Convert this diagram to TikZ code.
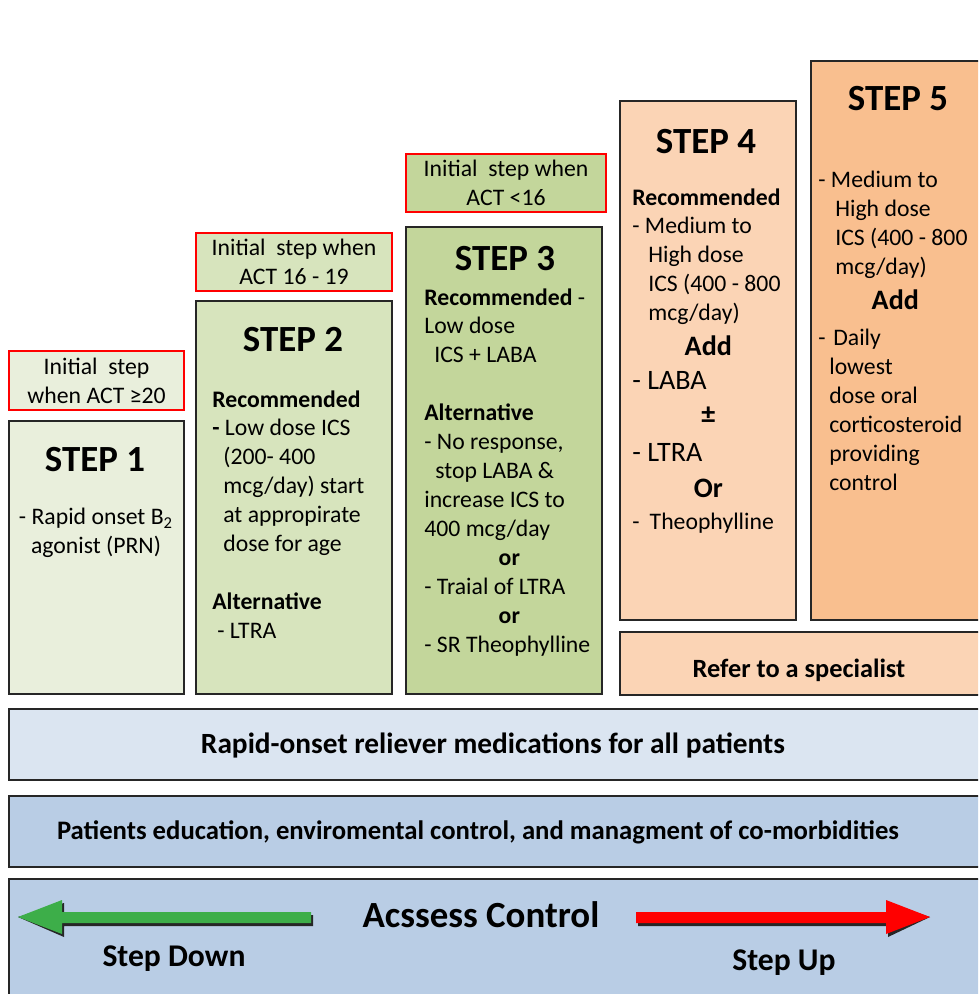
\documentclass[tikz,border=0pt]{standalone}
\usepackage{fontspec}
\setmainfont{Carlito}
\usetikzlibrary{positioning}

\definecolor{boxline}{HTML}{262626}
\definecolor{sone}{HTML}{E9EFDC}
\definecolor{stwo}{HTML}{D7E4BD}
\definecolor{sthree}{HTML}{C3D69B}
\definecolor{sfour}{HTML}{FBD4B5}
\definecolor{sfive}{HTML}{F9BF8F}
\definecolor{bandone}{HTML}{DBE5F1}
\definecolor{bandtwo}{HTML}{B9CDE5}
\definecolor{downgreen}{HTML}{3DAE49}
\definecolor{upred}{HTML}{FF0000}

\newcommand{\bodyfont}{\fontsize{13.5}{16.5}\selectfont}
\newcommand{\bigtxt}{\fontsize{16}{19}\selectfont}

\tikzset{
  stepbox/.style={draw=boxline, line width=1.3pt, anchor=north west, inner sep=0pt},
  actbox/.style={draw=red, line width=1.2pt, anchor=north west, inner sep=0pt, align=center, font=\bodyfont},
  txt/.style={anchor=north west, inner sep=0pt, align=left, font=\bodyfont},
  stephead/.style={inner sep=0pt, font=\fontsize{21}{24}\selectfont\bfseries},
  bandtxt/.style={inner sep=0pt, font=\fontsize{15}{18}\selectfont\bfseries},
}

\begin{document}
\begin{tikzpicture}[x=0.02cm,y=-0.02cm]
  \clip (0,0) rectangle (978,994);
  \fill[white] (0,0) rectangle (978,994);

  % step boxes
  \node[stepbox, fill=sone, minimum width=3.5cm, minimum height=5.46cm] (box1) at (8,420) {};
  \node[stepbox, fill=stwo, minimum width=3.92cm, minimum height=7.86cm] (box2) at (195,300) {};
  \node[stepbox, fill=sthree, minimum width=3.92cm, minimum height=9.34cm] (box3) at (405,226) {};
  \node[stepbox, fill=sfour, minimum width=3.52cm, minimum height=10.38cm] (box4) at (619,100) {};
  \node[stepbox, fill=sfive, minimum width=3.6cm, minimum height=11.18cm] (box5) at (810,60) {};
  \node[stepbox, fill=sfour, minimum width=7.42cm, minimum height=1.26cm] (refer) at (619,631) {};

  % initial step boxes
  \node[actbox, fill=sone, minimum width=3.5cm, minimum height=1.18cm] (init1) at (8,350) {Initial~ step\\when ACT ≥20};
  \node[actbox, fill=stwo, minimum width=3.92cm, minimum height=1.16cm] (init2) at (195,232) {Initial~ step when\\ACT 16 - 19};
  \node[actbox, fill=sthree, minimum width=4cm, minimum height=1.16cm] (init3) at (405,153) {Initial~ step when\\ACT <16};

  % bands
  \node[stepbox, fill=bandone, minimum width=19.64cm, minimum height=1.42cm] (band1) at (8,708) {};
  \node[stepbox, fill=bandtwo, minimum width=19.64cm, minimum height=1.42cm] (band2) at (8,795) {};
  \node[stepbox, fill=bandtwo, minimum width=19.64cm, minimum height=2.44cm] (band3) at (8,878) {};

  % headings
  \node[stephead] (head1) at (95,460) {STEP 1};
  \node[stephead] (head2) at (293,340) {STEP 2};
  \node[stephead] (head3) at (505,259) {STEP 3};
  \node[stephead] (head4) at (706,142) {STEP 4};
  \node[stephead] (head5) at (898,99) {STEP 5};

  % contents
  \node[txt, anchor=north, align=center] (text1) at (96,508) {- Rapid onset B\textsubscript{2}\\agonist (PRN)};
  \node[txt] (text2) at (212,390) {\textbf{Recommended}\\
    \textbf{-} Low dose ICS\\
    \hspace*{0.22cm}(200- 400\\
    \hspace*{0.22cm}mcg/day) start\\
    \hspace*{0.22cm}at appropirate\\
    \hspace*{0.22cm}dose for age\\[16.5pt]
    \textbf{Alternative}\\
    \hspace*{0.1cm}- LTRA};
  \node[txt] (text3) at (424,288) {\textbf{Recommended} -\\
    Low dose\\
    \hspace*{0.2cm}ICS + LABA\\[16.5pt]
    \textbf{Alternative}\\
    - No response,\\
    \hspace*{0.22cm}stop LABA \&\\
    increase ICS to\\
    400 mcg/day\\
    \makebox[3.4cm]{\bfseries or}\\
    - Traial of LTRA\\
    \makebox[3.4cm]{\bfseries or}\\
    - SR Theophylline};
  \node[txt] (text4) at (632,188) {\textbf{Recommended}\\
    - Medium to\\
    \hspace*{0.32cm}High dose\\
    \hspace*{0.32cm}ICS (400 - 800\\
    \hspace*{0.32cm}mcg/day)\\[3pt]
    \makebox[3.04cm]{\bigtxt\bfseries Add}\\[3pt]
    {\bigtxt - LABA}\\[3pt]
    \makebox[3.04cm]{\bigtxt\bfseries ±}\\[5pt]
    {\bigtxt - LTRA}\\[4pt]
    \makebox[3.04cm]{\bigtxt\bfseries Or}\\[1.5pt]
    -\hspace{0.2em} Theophylline};
  \node[txt] (text5) at (818,171) {- Medium to\\
    \hspace*{0.34cm}High dose\\
    \hspace*{0.34cm}ICS (400 - 800\\
    \hspace*{0.34cm}mcg/day)\\[3pt]
    \makebox[3.08cm]{\bigtxt\bfseries Add}\\[4pt]
    -\hspace{0.1em} Daily\\
    \hspace*{0.22cm}lowest\\
    \hspace*{0.22cm}dose oral\\
    \hspace*{0.22cm}corticosteroid\\
    \hspace*{0.22cm}providing\\
    \hspace*{0.22cm}control};

  \node[bandtxt] (refertxt) at (799,670) {Refer to a specialist};
  \node[bandtxt, font=\fontsize{16.7}{19}\selectfont\bfseries] (band1txt) at (493,745) {Rapid-onset reliever medications for all patients};
  \node[bandtxt, font=\fontsize{15.2}{18}\selectfont\bfseries] (band2txt) at (478,832) {Patients education, enviromental control, and managment of co-morbidities};
  \node[bandtxt, font=\fontsize{21}{24}\selectfont\bfseries] (assess) at (481,915) {Acssess Control};
  \node[bandtxt, font=\fontsize{18}{21}\selectfont\bfseries] (down) at (174,959) {Step Down};
  \node[bandtxt, font=\fontsize{18}{21}\selectfont\bfseries] (up) at (784,963) {Step Up};

  % arrows
  \coordinate (downtip) at (18,917);
  \coordinate (uptip) at (930,917);
  \begin{scope}[shift={(2,3)}]
    \fill[boxline] (311,912) -- (62,912) -- (62,900) -- (downtip) -- (62,934) -- (62,923) -- (311,923) -- cycle;
    \fill[boxline] (636,912) -- (886,912) -- (886,900) -- (uptip) -- (886,934) -- (886,923) -- (636,923) -- cycle;
  \end{scope}
  \fill[downgreen] (311,912) -- (62,912) -- (62,900) -- (downtip) -- (62,934) -- (62,923) -- (311,923) -- cycle;
  \fill[upred] (636,912) -- (886,912) -- (886,900) -- (uptip) -- (886,934) -- (886,923) -- (636,923) -- cycle;
\end{tikzpicture}
\end{document}
